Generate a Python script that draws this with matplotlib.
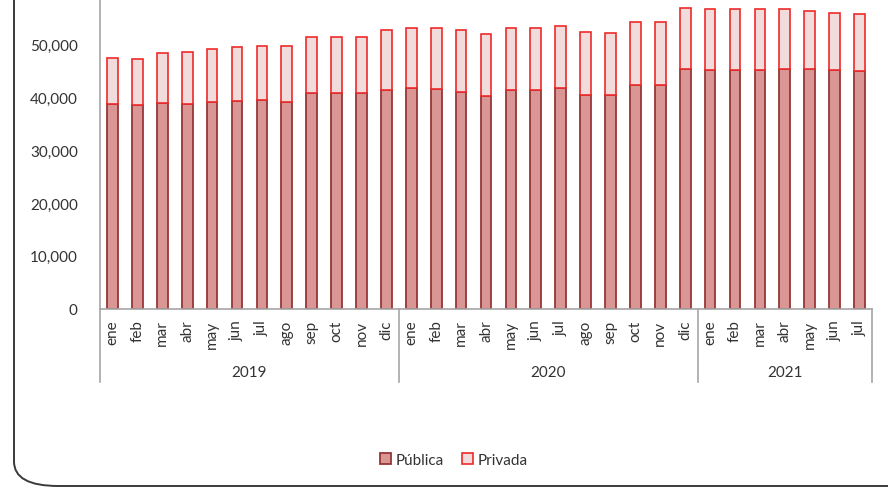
import matplotlib.pyplot as plt
import numpy as np
from matplotlib.patches import FancyBboxPatch
from matplotlib.lines import Line2D

plt.rcParams['font.family'] = ['Lato', 'DejaVu Sans']

months = ['ene', 'feb', 'mar', 'abr', 'may', 'jun', 'jul', 'ago', 'sep', 'oct', 'nov', 'dic',
          'ene', 'feb', 'mar', 'abr', 'may', 'jun', 'jul', 'ago', 'sep', 'oct', 'nov', 'dic',
          'ene', 'feb', 'mar', 'abr', 'may', 'jun', 'jul']
years = ['2019', '2020', '2021']
year_len = [12, 12, 7]

publica = [38730, 38540, 38920, 38670, 39110, 39360, 39490, 39170, 40870, 40820, 40760, 41440,
           41700, 41570, 41000, 40250, 41440, 41380, 41760, 40490, 40440, 42330, 42330, 45360,
           45230, 45230, 45230, 45420, 45420, 45110, 45040]
total = [47440, 47250, 48330, 48520, 49090, 49580, 49770, 49660, 51420, 51360, 51420, 52690,
         53120, 53070, 52690, 52050, 53180, 53120, 53560, 52310, 52240, 54320, 54260, 56970,
         56660, 56660, 56660, 56660, 56290, 55910, 55780]
privada = [t - p for t, p in zip(total, publica)]

W, H = 888, 489
fig = plt.figure(figsize=(W / 100, H / 100), dpi=100)

# rounded frame, its top and right edges lie outside the picture
frame = FancyBboxPatch((14 / W, 2 / H), 1.2, 1.2,
                       boxstyle="round,pad=0,rounding_size=0.05",
                       transform=fig.transFigure, fill=False,
                       edgecolor='#3a3a3a', linewidth=1.4)
frame.set_clip_on(False)
fig.patches.append(frame)

y0 = (H - 309.5) / H
y1 = (H + 7.3) / H
ax = fig.add_axes([100 / W, y0, 772 / W, y1 - y0])

x = np.arange(len(months))
ax.bar(x, publica, width=0.43, color='#D99694', edgecolor='#953735', linewidth=1.3, label='Pública')
ax.bar(x, privada, width=0.43, bottom=publica, color='#F2DCDB', edgecolor='#EE2A2A',
       linewidth=1.2, label='Privada')

ax.set_xlim(-0.5, len(months) - 0.5)
ax.set_ylim(0, 60000)
ax.set_yticks(range(0, 60001, 10000))
ax.set_yticklabels(['{:,}'.format(v) for v in range(0, 60001, 10000)])
ax.tick_params(axis='y', length=0, labelsize=11, colors='#333333', pad=16)
ax.set_xticks(x)
ax.set_xticklabels(months, rotation=90, fontsize=11, color='#333333')
ax.tick_params(axis='x', length=0, pad=8)
for s in ['top', 'right']:
    ax.spines[s].set_visible(False)
for s in ['left', 'bottom']:
    ax.spines[s].set_color('#A6A6A6')
    ax.spines[s].set_linewidth(1.2)

# year groups under the months
sep_bottom = (H - 383) / H
bounds = [0]
for n in year_len:
    bounds.append(bounds[-1] + n)
to_fig = fig.transFigure.inverted()
for b in bounds:
    xf = to_fig.transform(ax.transData.transform((b - 0.5, 0)))[0]
    fig.add_artist(Line2D([xf, xf], [y0, sep_bottom], color='#A6A6A6', linewidth=1.2))
for i, yr in enumerate(years):
    mid = (bounds[i] + bounds[i + 1] - 1) / 2
    xf = to_fig.transform(ax.transData.transform((mid, 0)))[0]
    fig.text(xf, (H - 373) / H, yr, ha='center', va='center', fontsize=11, color='#333333')

fig.legend(loc='center', bbox_to_anchor=(454 / W, (H - 461) / H), ncol=2, frameon=False,
           fontsize=11, handlelength=0.7, handleheight=0.7, handletextpad=0.3,
           columnspacing=1.2, labelcolor='#333333')

fig.savefig('out.png', dpi=100)
